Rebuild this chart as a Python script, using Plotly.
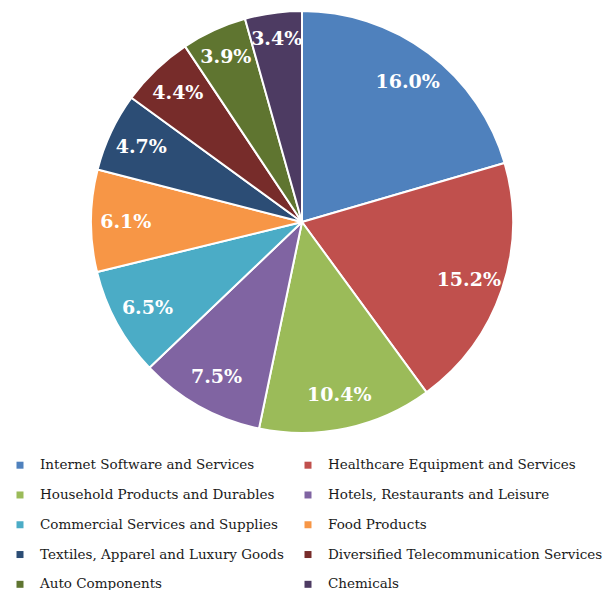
import plotly.graph_objects as go

categories = [
    "Internet Software and Services",
    "Healthcare Equipment and Services",
    "Household Products and Durables",
    "Hotels, Restaurants and Leisure",
    "Commercial Services and Supplies",
    "Food Products",
    "Textiles, Apparel and Luxury Goods",
    "Diversified Telecommunication Services",
    "Auto Components",
    "Chemicals",
]
values = [16.0, 15.2, 10.4, 7.5, 6.5, 6.1, 4.7, 4.4, 3.9, 3.4]
colors = ["#4F81BD", "#C0504D", "#9BBB59", "#8064A2", "#4BACC6",
          "#F79646", "#2C4D75", "#772C2A", "#5F7530", "#4D3B62"]

W, H = 607, 590
cx, cy, R = 302, 222, 211
domain = dict(x=[(cx - R) / W, (cx + R) / W], y=[1 - (cy + R) / H, 1 - (cy - R) / H])

fig = go.Figure()

# main pie (slices)
fig.add_trace(go.Pie(
    labels=categories,
    values=values,
    sort=False,
    direction="clockwise",
    rotation=0,
    marker=dict(colors=colors, line=dict(color="white", width=2)),
    textinfo="none",
    hoverinfo="label+value",
    showlegend=False,
    domain=domain,
))

# transparent overlay ring to place the value labels near the outer edge
fig.add_trace(go.Pie(
    labels=categories,
    values=values,
    sort=False,
    direction="clockwise",
    rotation=0,
    hole=0.67,
    marker=dict(colors=["rgba(0,0,0,0)"] * len(values), line=dict(width=0)),
    texttemplate="%{value:.1f}%",
    textposition="inside",
    insidetextorientation="horizontal",
    insidetextfont=dict(family="DejaVu Serif", size=19, color="white", weight="bold"),
    hoverinfo="skip",
    showlegend=False,
    domain=domain,
))

# legend entries (two columns: left = even indices, right = odd indices)
for i, (cat, col) in enumerate(zip(categories, colors)):
    fig.add_trace(go.Scatter(
        x=[None], y=[None],
        mode="markers",
        marker=dict(symbol="square", size=7, color=col, line=dict(width=0)),
        name='<span style="font-size:13.5px">%s</span><br> ' % cat,
        legend="legend" if i % 2 == 0 else "legend2",
        hoverinfo="skip",
    ))

legend_common = dict(
    orientation="v",
    y=1 - 452 / H, yanchor="top",
    xanchor="left",
    font=dict(family="DejaVu Serif", size=10.3, color="#1a1a1a"),
    itemwidth=30,
    valign="top",
    bgcolor="rgba(0,0,0,0)",
    tracegroupgap=0,
)

fig.update_layout(
    template="none",
    width=W, height=H,
    margin=dict(l=0, r=0, t=0, b=0, autoexpand=False),
    paper_bgcolor="white",
    plot_bgcolor="white",
    xaxis=dict(visible=False),
    yaxis=dict(visible=False),
    uniformtext=dict(minsize=19, mode="show"),
    showlegend=True,
    legend=dict(x=0, **legend_common),
    legend2=dict(x=(328 - 40) / W, **legend_common),
)

fig.write_html("out.html")
